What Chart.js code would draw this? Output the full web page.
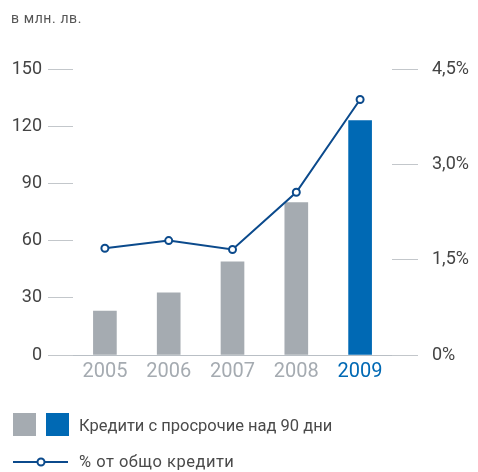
<!DOCTYPE html>
<html>
<head>
<meta charset="utf-8">
<script src="https://cdn.jsdelivr.net/npm/chart.js@4/dist/chart.umd.min.js"></script>
<style>
  html, body { margin: 0; padding: 0; background: #fff; }
  #wrap { position: relative; width: 478px; height: 472px; font-family: Roboto, "Noto Sans", sans-serif; }
  canvas { position: absolute; left: 0; top: 0; }
  .t { position: absolute; color: #4a4a4a; white-space: nowrap; line-height: 1; }
  .sq { position: absolute; width: 23px; height: 23px; }
</style>
</head>
<body>
<div id="wrap">
  <canvas id="c" width="478" height="472"></canvas>
  <div class="t" style="left:11px; top:11px; font-size:14px; letter-spacing:0.6px; color:#555;">в млн. лв.</div>
  <div class="sq" style="left:13px; top:413px; background:#a5abb1;"></div>
  <div class="sq" style="left:46px; top:413px; background:#0069b4;"></div>
  <div class="t" style="left:79px; top:418px; font-size:16.5px;">Кредити с просрочие над 90 дни</div>
  <svg style="position:absolute; left:10px; top:454px;" width="62" height="16">
    <line x1="3" y1="8" x2="58" y2="8" stroke="#0b4a8c" stroke-width="2"/>
    <circle cx="31" cy="8" r="3.5" fill="#fff" stroke="#0b4a8c" stroke-width="2"/>
  </svg>
  <div class="t" style="left:79px; top:454px; font-size:16.5px; letter-spacing:0.5px;">% от общо кредити</div>
</div>
<script>
const categories = ["2005", "2006", "2007", "2008", "2009"];
const overdueLoans = [23, 32.6, 48.8, 80, 123];
const shareOfLoans = [1.68, 1.8, 1.66, 2.56, 4.02];
const barColors = ["#a5abb1", "#a5abb1", "#a5abb1", "#a5abb1", "#0069b4"];
const labelColors = ["#a5abb1", "#a5abb1", "#a5abb1", "#a5abb1", "#0069b4"];
const leftTicks = [0, 30, 60, 90, 120, 150];
const rightTickLabels = {"0": "0%", "1.5": "1,5%", "3": "3,0%", "4.5": "4,5%"};

const tickGrey = "#c3c7cb";

new Chart(document.getElementById("c"), {
  data: {
    labels: categories,
    datasets: [
      {
        type: "line",
        label: "% от общо кредити",
        data: shareOfLoans,
        yAxisID: "y2",
        borderColor: "#0b4a8c",
        borderWidth: 2,
        pointRadius: 3.5,
        pointBorderWidth: 2,
        pointBackgroundColor: "#fff",
        pointBorderColor: "#0b4a8c",
        tension: 0,
        order: 0
      },
      {
        type: "bar",
        label: "Кредити с просрочие над 90 дни",
        data: overdueLoans,
        yAxisID: "y",
        backgroundColor: barColors,
        barThickness: 23,
        order: 1
      }
    ]
  },
  options: {
    responsive: false,
    animation: false,
    devicePixelRatio: 1,
    layout: { padding: { top: 69, bottom: 77, left: 0, right: 0 } },
    plugins: { legend: { display: false }, tooltip: { enabled: false } },
    scales: {
      x: {
        type: "category",
        offset: true,
        grid: { display: false, drawTicks: false },
        border: { display: false },
        ticks: {
          padding: 5,
          color: labelColors,
          font: { family: "Roboto", size: 20 }
        },
        afterFit: s => { s.height = 40; }
      },
      y: {
        type: "linear",
        position: "left",
        min: 0, max: 150,
        afterBuildTicks: s => { s.ticks = leftTicks.map(v => ({ value: v })); },
        grid: {
          drawOnChartArea: true,
          color: ctx => (ctx.tick && ctx.tick.value === 0) ? "#b9bfc5" : "rgba(0,0,0,0)",
          tickColor: tickGrey,
          tickLength: 25,
          lineWidth: 1
        },
        border: { display: false },
        ticks: {
          padding: 6,
          color: "#444",
          font: { family: "Roboto", size: 18 }
        },
        afterFit: s => { s.width = 73; }
      },
      y2: {
        type: "linear",
        position: "right",
        min: 0, max: 4.5,
        ticks: {
          stepSize: 1.5,
          padding: 14,
          color: "#444",
          font: { family: "Roboto", size: 18 },
          callback: v => rightTickLabels[String(v)] ?? ""
        },
        grid: {
          drawOnChartArea: false,
          tickColor: tickGrey,
          tickLength: 26
        },
        border: { display: false },
        afterFit: s => { s.width = 86; }
      }
    }
  }
});
</script>
</body>
</html>
